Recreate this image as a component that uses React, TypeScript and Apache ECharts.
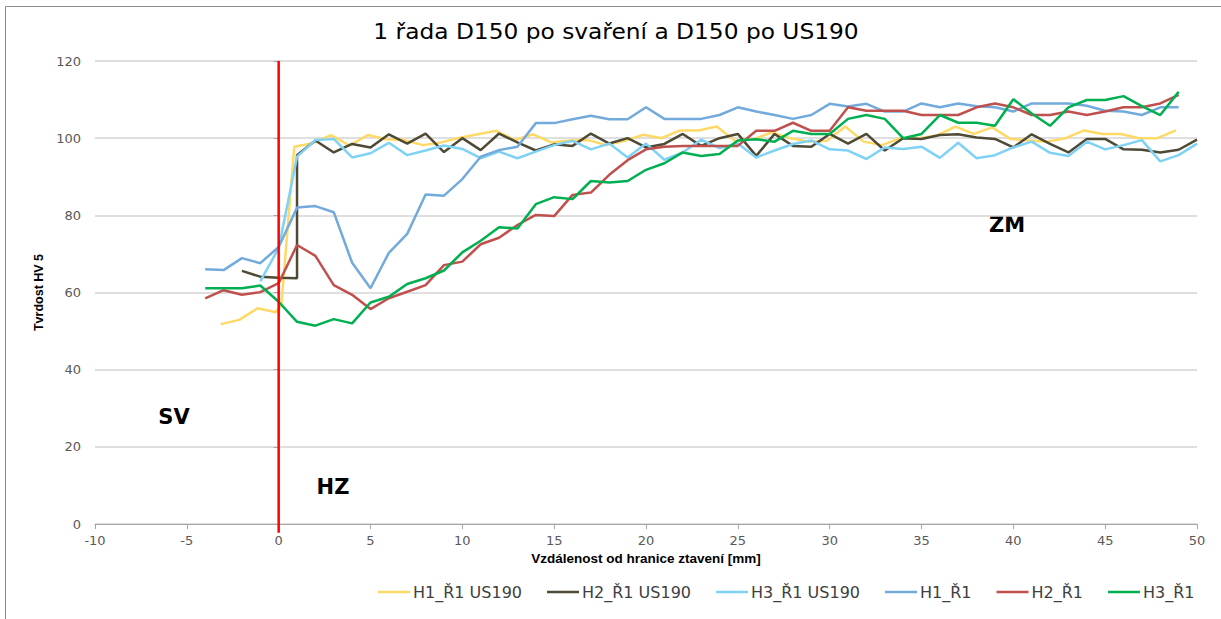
import React, { useEffect, useRef } from "react";
import * as echarts from "echarts";

const TITLE = "1 řada D150 po svaření a D150 po US190";
const X_NAME = "Vzdálenost od hranice ztavení [mm]";
const Y_NAME = "Tvrdost HV 5";
const ZONE_LABELS = ["SV", "HZ", "ZM"];

const SERIES_NAMES = ["H1_Ř1 US190", "H2_Ř1 US190", "H3_Ř1 US190", "H1_Ř1", "H2_Ř1", "H3_Ř1"];
const COLORS = ["#FFD966", "#4F4A36", "#80D2F5", "#72AADC", "#C0504D", "#00B050"];

// distances [mm]
const R1_X = [-4, -3, -2, -1, 0, 1, 2, 3, 4, 5, 6, 7, 8, 9, 10, 11, 12, 13, 14, 15, 16, 17, 18, 19, 20, 21, 22, 23, 24, 25, 26, 27, 28, 29, 30, 31, 32, 33, 34, 35, 36, 37, 38, 39, 40, 41, 42, 43, 44, 45, 46, 47, 48, 49];
const H1_US_X = [-3.15, -2.15, -1.15, -0.15, 0.15, 0.85, 1.85, 2.85, 3.85, 4.85, 5.85, 6.85, 7.85, 8.85, 9.85, 10.85, 11.85, 12.85, 13.85, 14.85, 15.85, 16.85, 17.85, 18.85, 19.85, 20.85, 21.85, 22.85, 23.85, 24.85, 25.85, 26.85, 27.85, 28.85, 29.85, 30.85, 31.85, 32.85, 33.85, 34.85, 35.85, 36.85, 37.85, 38.85, 39.85, 40.85, 41.85, 42.85, 43.85, 44.85, 45.85, 46.85, 47.85, 48.85];
const H2_US_X = [-2, -1, 0, 1, 1, 2, 3, 4, 5, 6, 7, 8, 9, 10, 11, 12, 13, 14, 15, 16, 17, 18, 19, 20, 21, 22, 23, 24, 25, 26, 27, 28, 29, 30, 31, 32, 33, 34, 35, 36, 37, 38, 39, 40, 41, 42, 43, 44, 45, 46, 47, 48, 49, 50];
const H3_US_X = [-1, 0, 1, 2, 3, 4, 5, 6, 7, 8, 9, 10, 11, 12, 13, 14, 15, 16, 17, 18, 19, 20, 21, 22, 23, 24, 25, 26, 27, 28, 29, 30, 31, 32, 33, 34, 35, 36, 37, 38, 39, 40, 41, 42, 43, 44, 45, 46, 47, 48, 49, 50];

// hardness HV 5
const H1_US = [51.8, 52.9, 55.9, 54.9, 57.0, 97.8, 98.7, 100.8, 98.1, 100.8, 99.7, 99.5, 98.2, 98.9, 100.1, 101.0, 101.9, 99.5, 101.0, 98.9, 99.4, 99.5, 98.2, 99.3, 100.9, 100.0, 102.0, 102.0, 103.0, 99.3, 99.7, 101.5, 100.0, 99.1, 99.3, 103.0, 99.1, 98.2, 100.0, 100.0, 100.7, 103.0, 101.1, 102.8, 99.8, 99.4, 99.1, 100.0, 102.0, 101.1, 101.1, 100.0, 100.0, 102.0];
const H2_US = [65.6, 64.1, 63.8, 63.7, 95.6, 99.4, 96.3, 98.5, 97.6, 101.0, 98.6, 101.2, 96.4, 100.0, 96.9, 101.2, 98.9, 96.8, 98.4, 98.0, 101.2, 98.6, 100.0, 97.6, 98.5, 101.1, 98.0, 100.0, 101.1, 95.4, 101.1, 98.0, 97.8, 101.1, 98.6, 101.1, 96.8, 100.0, 99.8, 100.8, 101.0, 100.2, 99.8, 97.6, 101.0, 98.5, 96.3, 99.8, 99.8, 97.1, 97.0, 96.3, 97.0, 99.6];
const H3_US = [62.9, 71.5, 95.2, 99.5, 99.8, 95.0, 96.1, 98.8, 95.6, 96.8, 98.1, 97.2, 94.8, 96.5, 94.8, 96.5, 98.2, 99.3, 97.1, 98.6, 95.0, 98.6, 94.4, 96.3, 99.6, 97.4, 98.6, 95.0, 96.8, 98.5, 99.4, 97.1, 96.8, 94.6, 97.6, 97.2, 97.8, 94.9, 98.8, 94.8, 95.6, 97.6, 99.1, 96.2, 95.4, 99.1, 97.1, 98.2, 99.5, 94.0, 95.6, 98.6];
const H1_R1 = [66.0, 65.8, 68.9, 67.6, 71.8, 82.0, 82.4, 80.8, 67.7, 61.1, 70.3, 75.2, 85.4, 85.1, 89.4, 95.2, 96.9, 97.8, 103.9, 103.9, 104.9, 105.8, 104.9, 104.9, 108.0, 105.0, 105.0, 105.0, 106.0, 108.0, 106.9, 106.0, 105.0, 106.0, 108.9, 108.2, 108.9, 106.9, 106.9, 109.0, 108.0, 109.0, 108.3, 108.0, 106.9, 109.0, 109.0, 109.0, 108.4, 107.1, 106.9, 106.0, 108.0, 108.0];
const H2_R1 = [58.5, 60.6, 59.4, 60.1, 62.4, 72.3, 69.5, 61.9, 59.4, 55.7, 58.5, 60.2, 61.9, 67.1, 68.0, 72.5, 74.2, 77.5, 80.1, 79.8, 85.3, 85.9, 90.5, 94.3, 97.1, 97.8, 98.0, 98.0, 98.0, 98.0, 101.9, 101.9, 104.0, 101.9, 101.9, 108.0, 107.1, 107.1, 107.1, 106.0, 106.0, 106.0, 108.0, 109.0, 108.0, 106.0, 106.0, 106.9, 106.0, 106.9, 108.0, 108.0, 109.0, 111.2];
const H3_R1 = [61.1, 61.1, 61.1, 61.8, 57.6, 52.4, 51.4, 53.1, 52.0, 57.4, 58.9, 62.2, 63.7, 65.7, 70.4, 73.4, 76.9, 76.6, 82.9, 84.7, 84.2, 88.9, 88.5, 88.9, 91.8, 93.5, 96.3, 95.4, 95.9, 99.4, 99.7, 99.1, 101.9, 101.1, 101.1, 105.0, 106.0, 105.0, 100.0, 101.1, 106.0, 104.0, 104.0, 103.2, 110.1, 106.4, 103.2, 108.0, 109.9, 109.9, 110.9, 108.3, 106.0, 112.0];

// fusion boundary (x = 0) reference line
const BOUNDARY_X = [0, 0];
const BOUNDARY_Y = [-2.3, 120];

const SERIES_X = [H1_US_X, H2_US_X, H3_US_X, R1_X, R1_X, R1_X];
const SERIES_Y = [H1_US, H2_US, H3_US, H1_R1, H2_R1, H3_R1];

const zip = (xs: number[], ys: number[]) => ys.map((y, i) => [xs[i], y]);

export default function App() {
  const ref = useRef<HTMLDivElement>(null);
  useEffect(() => {
    if (!ref.current) return;
    const chart = echarts.init(ref.current, null, { renderer: "svg" });
    const font = "DejaVu Sans";
    const lineSeries = SERIES_NAMES.map((name, i) => ({
      name,
      type: "line",
      data: zip(SERIES_X[i], SERIES_Y[i]),
      showSymbol: false,
      symbol: "none",
      lineStyle: { color: COLORS[i], width: 2.5 },
      itemStyle: { color: COLORS[i] },
      z: 2 + i,
      silent: true,
    }));
    chart.setOption({
      animation: false,
      backgroundColor: "#ffffff",
      grid: { left: 95, right: 24, top: 61, bottom: 95, containLabel: false },
      xAxis: {
        type: "value",
        min: -10,
        max: 50,
        interval: 5,
        name: X_NAME,
        nameLocation: "middle",
        nameGap: 15,
        nameTextStyle: { fontFamily: "Liberation Sans", fontWeight: "bold", fontSize: 13.5, color: "#000000" },
        axisLine: { show: true, onZero: false, lineStyle: { color: "#a6a6a6", width: 1 } },
        axisTick: { show: true, length: 5, lineStyle: { color: "#a6a6a6" } },
        axisLabel: { fontFamily: font, fontSize: 13, color: "#595959", margin: 10 },
        splitLine: { show: false },
      },
      yAxis: {
        type: "value",
        min: 0,
        max: 120,
        interval: 20,
        name: Y_NAME,
        nameLocation: "middle",
        nameRotate: 90,
        nameGap: 50,
        nameTextStyle: { fontFamily: "Liberation Sans", fontWeight: "bold", fontSize: 12.5, color: "#000000" },
        axisLine: { show: true, lineStyle: { color: "#a6a6a6", width: 1 } },
        axisTick: { show: true, length: 5, lineStyle: { color: "#a6a6a6" } },
        axisLabel: { fontFamily: font, fontSize: 13, color: "#595959", margin: 14 },
        splitLine: { show: true, lineStyle: { color: "#d4d4d4", width: 1.5 } },
      },
      legend: {
        data: SERIES_NAMES,
        left: 378,
        top: 584,
        padding: 0,
        icon: "rect",
        itemWidth: 32,
        itemHeight: 2.5,
        itemGap: 25,
        selectedMode: false,
        textStyle: { fontFamily: font, fontSize: 16, color: "#404040", padding: [0, 0, 0, -2] },
      },
      series: [
        ...lineSeries,
        {
          name: "hranice",
          type: "line",
          data: zip(BOUNDARY_X, BOUNDARY_Y),
          showSymbol: false,
          symbol: "none",
          clip: false,
          lineStyle: { color: "#ff0000", width: 2.5 },
          z: 20,
          silent: true,
        },
      ],
      graphic: [
        {
          type: "rect",
          shape: { x: 5.5, y: 6.5, width: 1400, height: 800 },
          style: { fill: "none", stroke: "#8c8c8c", lineWidth: 1 },
          silent: true,
          z: 100,
        },
        {
          type: "text",
          x: 616,
          y: 31,
          scaleX: 1.11,
          style: { text: TITLE, fontFamily: font, fontSize: 21, fill: "#000", align: "center", verticalAlign: "middle" },
        },
        {
          type: "text",
          x: 174,
          y: 417,
          style: { text: ZONE_LABELS[0], fontFamily: font, fontWeight: "bold", fontSize: 21, fill: "#000", align: "center", verticalAlign: "middle" },
        },
        {
          type: "text",
          x: 333,
          y: 487,
          style: { text: ZONE_LABELS[1], fontFamily: font, fontWeight: "bold", fontSize: 21, fill: "#000", align: "center", verticalAlign: "middle" },
        },
        {
          type: "text",
          x: 1007,
          y: 225,
          style: { text: ZONE_LABELS[2], fontFamily: font, fontWeight: "bold", fontSize: 21, fill: "#000", align: "center", verticalAlign: "middle" },
        },
      ],
    });
    return () => chart.dispose();
  }, []);
  return (
    <div
      ref={ref}
      style={{ position: "fixed", left: 0, top: 0, width: 1221, height: 619, background: "#fff" }}
    />
  );
}
